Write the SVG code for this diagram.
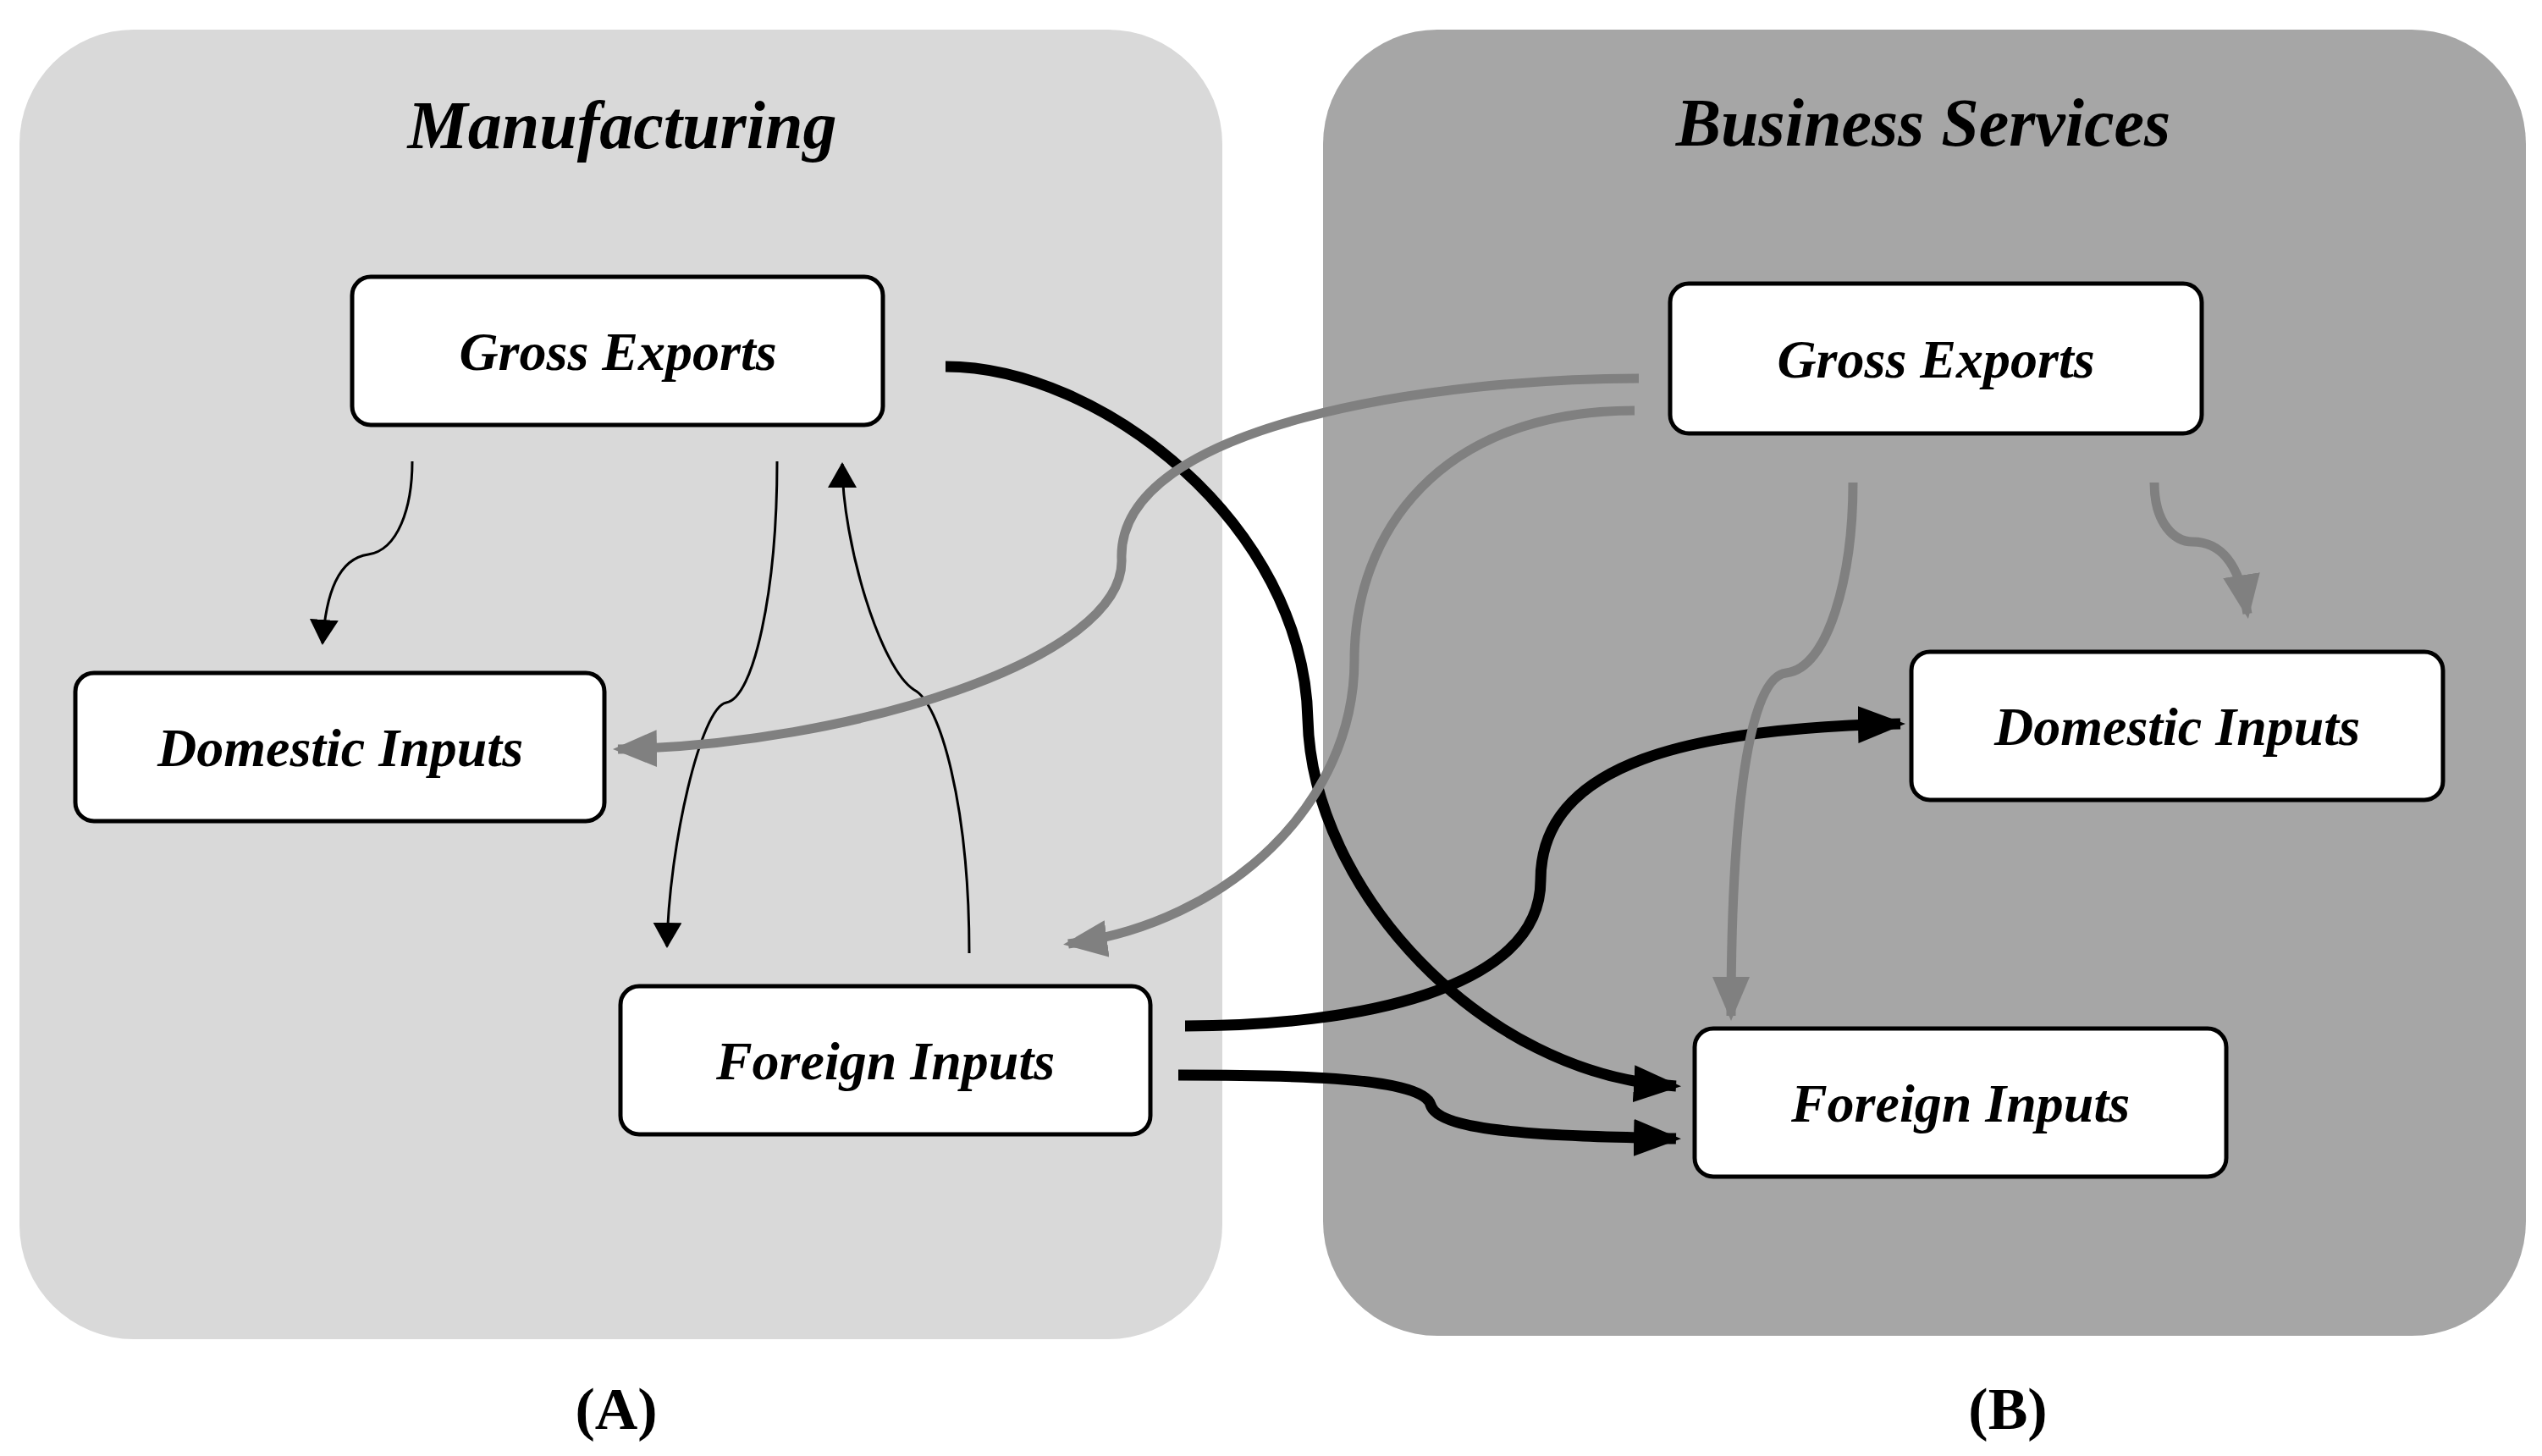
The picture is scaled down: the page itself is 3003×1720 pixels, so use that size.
<svg xmlns="http://www.w3.org/2000/svg" width="3003" height="1720" viewBox="0 0 3003 1720">
<style>
.t{font-family:"Liberation Serif",serif;font-weight:bold;font-style:italic;fill:#000;text-anchor:middle}
.box{fill:#fff;stroke:#000;stroke-width:5}
.thin{fill:none;stroke:#000;stroke-width:3}
.bk{fill:none;stroke:#000;stroke-width:13}
.gr{fill:none;stroke:#808080;stroke-width:11}
</style>
<defs>
<marker id="at" markerUnits="userSpaceOnUse" markerWidth="30" markerHeight="34" viewBox="0 0 30 34" refX="28" refY="17" orient="auto"><path d="M0,0 L30,17 L0,34 Z" fill="#000"/></marker>
<marker id="ab" markerUnits="userSpaceOnUse" markerWidth="56" markerHeight="44" viewBox="0 0 56 44" refX="50" refY="22" orient="auto"><path d="M0,0 L56,22 L0,44 Z" fill="#000"/></marker>
<marker id="ag" markerUnits="userSpaceOnUse" markerWidth="52" markerHeight="44" viewBox="0 0 52 44" refX="46" refY="22" orient="auto"><path d="M0,0 L52,22 L0,44 Z" fill="#808080"/></marker>
</defs>
<rect id="panelA" x="23" y="35" width="1421" height="1547" rx="135" fill="#d9d9d9"/>
<rect id="panelB" x="1563" y="35" width="1421" height="1543" rx="135" fill="#a6a6a6"/>
<text class="t" x="735" y="175" font-size="80">Manufacturing</text>
<text class="t" x="2272" y="172" font-size="80">Business Services</text>
<g id="connectors">
<path class="thin" d="M487,545 C487,600 470,650 435,655 C400,660 385,700 381,760" marker-end="url(#at)"/>
<path class="thin" d="M918,545 C918,700 890,825 858,830 C828,835 790,1000 788,1118" marker-end="url(#at)"/>
<path class="thin" d="M1145,1126 C1145,950 1110,830 1080,815 C1040,790 995,640 995,548" marker-end="url(#at)"/>
<path class="bk" d="M1117,433 C1300,433 1540,620 1545,850 C1550,1050 1750,1270 1980,1283" marker-end="url(#ab)"/>
<path class="bk" d="M1400,1212 C1600,1212 1820,1170 1820,1040 C1820,900 2000,860 2245,855" marker-end="url(#ab)"/>
<path class="bk" d="M1392,1270 C1500,1270 1680,1270 1690,1305 C1700,1340 1850,1342 1980,1345" marker-end="url(#ab)"/>
<path class="gr" d="M1936,447 C1700,447 1320,500 1325,660 C1330,780 1000,880 730,885" marker-end="url(#ag)"/>
<path class="gr" d="M1931,485 C1700,485 1600,630 1600,780 C1600,950 1450,1090 1262,1115" marker-end="url(#ag)"/>
<path class="gr" d="M2189,570 C2189,680 2160,790 2110,795 C2060,800 2045,1000 2045,1200" marker-end="url(#ag)"/>
<path class="gr" d="M2545,570 C2545,620 2570,640 2590,640 C2620,640 2645,660 2655,725" marker-end="url(#ag)"/>
</g>
<g id="geA"><rect class="box" x="416" y="327" width="627" height="175" rx="22"/><text class="t" x="730" y="437" font-size="64">Gross Exports</text></g>
<g id="diA"><rect class="box" x="89" y="795" width="625" height="175" rx="22"/><text class="t" x="402" y="905" font-size="64">Domestic Inputs</text></g>
<g id="fiA"><rect class="box" x="733" y="1165" width="626" height="175" rx="22"/><text class="t" x="1046" y="1275" font-size="64">Foreign Inputs</text></g>
<g id="geB"><rect class="box" x="1973" y="335" width="628" height="177" rx="22"/><text class="t" x="2287" y="446" font-size="64">Gross Exports</text></g>
<g id="diB"><rect class="box" x="2258" y="770" width="628" height="175" rx="22"/><text class="t" x="2572" y="880" font-size="64">Domestic Inputs</text></g>
<g id="fiB"><rect class="box" x="2002" y="1215" width="628" height="175" rx="22"/><text class="t" x="2316" y="1325" font-size="64">Foreign Inputs</text></g>
<text x="728" y="1688" font-size="70" font-family="Liberation Serif,serif" font-weight="bold" text-anchor="middle">(A)</text>
<text x="2372" y="1688" font-size="70" font-family="Liberation Serif,serif" font-weight="bold" text-anchor="middle">(B)</text>
</svg>
